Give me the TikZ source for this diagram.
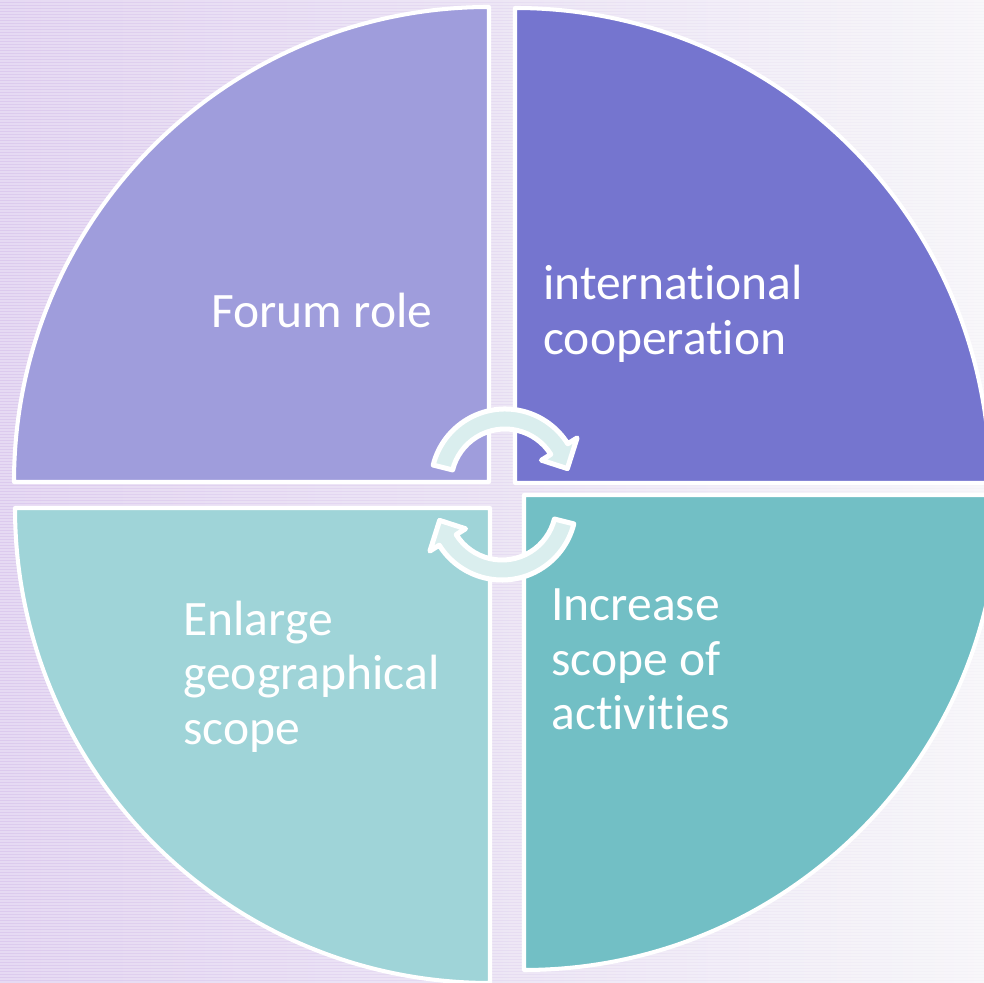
\documentclass[tikz,border=0pt]{standalone}
\usepackage{fontspec}
\setmainfont[Ligatures=NoCommon]{Carlito}
\usetikzlibrary{positioning}

\definecolor{bgleft}{HTML}{DCCAEE}
\definecolor{bgmid}{HTML}{E6DCF2}
\definecolor{bgright}{HTML}{F5F4F8}
\definecolor{tlcol}{HTML}{9F9DDC}
\definecolor{trcol}{HTML}{7575CF}
\definecolor{blcol}{HTML}{9FD4D8}
\definecolor{brcol}{HTML}{72BFC5}
\definecolor{arrowcol}{HTML}{DAEEEE}

\tikzset{
  quad/.style={draw=white, line width=2.3pt, line join=round},
  cyc/.style={draw=white, fill=arrowcol, line width=2.85pt, line join=round},
  lbl/.style={text=white, font=\fontsize{28.2}{31.3}\selectfont, align=left,
    anchor=base west, inner sep=0pt}
}

\begin{document}
\begin{tikzpicture}[x=0.02cm, y=0.02cm]
  \useasboundingbox (0,0) rectangle (984,983);
  \clip (0,0) rectangle (984,983);
  % background
  \shade[left color=bgleft, right color=bgright, middle color=bgmid]
    (0,0) rectangle (984,983);
  \foreach \y in {1,4,...,983}
    \draw[white, opacity=0.3, line width=0.6pt] (0,\y) -- (984,\y);

  % quadrants
  \draw[quad, fill=tlcol] (489,501) -- ++(-475,0)
    arc[start angle=180, end angle=90, radius=475] -- cycle;
  \draw[quad, fill=trcol] (515,500) -- ++(0,475)
    arc[start angle=90, end angle=0, radius=475] -- cycle;
  \draw[quad, fill=blcol] (490,475) -- ++(0,-475)
    arc[start angle=270, end angle=180, radius=475] -- cycle;
  \draw[quad, fill=brcol] (524,488) -- ++(475,0)
    arc[start angle=0, end angle=-90, radius=475] -- cycle;

  % cycle arrows
  \begin{scope}[shift={(505,500)}]
    \draw[cyc] (166:74) arc[start angle=166, end angle=32, radius=74]
      -- (32:85) -- (13:64) -- (32:43) -- (32:54)
      arc[start angle=32, end angle=166, radius=54] -- cycle;
  \end{scope}
  \begin{scope}[shift={(502,477)}]
    \draw[cyc] (-14:74) arc[start angle=-14, end angle=-148, radius=74]
      -- (-148:85) -- (-167:64) -- (-148:43) -- (-148:54)
      arc[start angle=-148, end angle=-14, radius=54] -- cycle;
  \end{scope}

  % labels (base = last line)
  \node[lbl] (forum) at (211,655) {Forum role};
  \node[lbl] (intl) at (543,628) {international\\cooperation};
  \node[lbl] (enlarge) at (183,238) {Enlarge\\geographical\\scope};
  \node[lbl] (increase) at (551,253) {Increase\\scope of\\activities};
\end{tikzpicture}
\end{document}
